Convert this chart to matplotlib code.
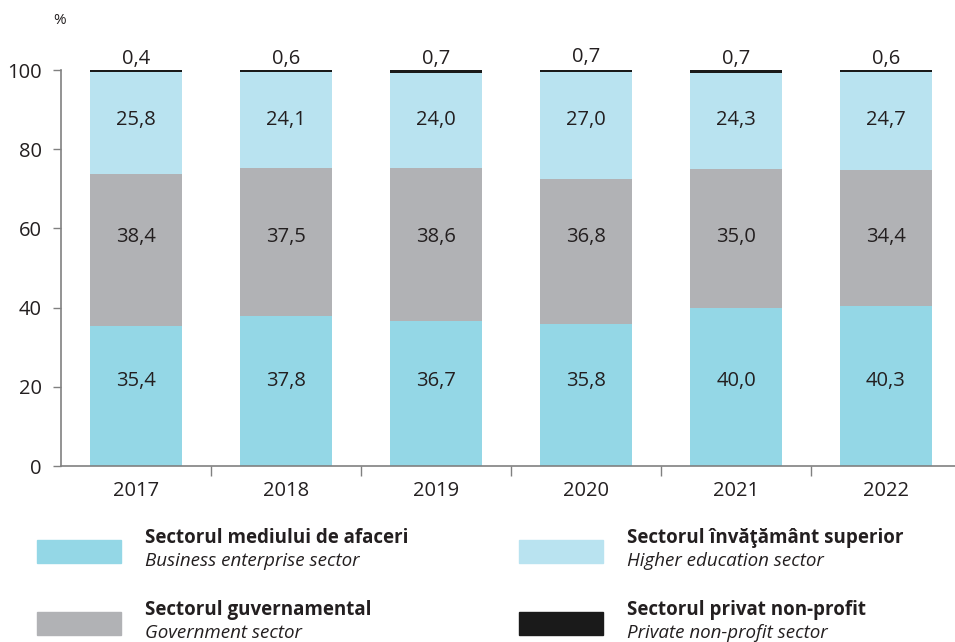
import matplotlib.pyplot as plt
from matplotlib.patches import Rectangle

plt.rcParams['font.family'] = ['Open Sans', 'DejaVu Sans']

years = ["2017", "2018", "2019", "2020", "2021", "2022"]
business = [35.4, 37.8, 36.7, 35.8, 40.0, 40.3]
government = [38.4, 37.5, 38.6, 36.8, 35.0, 34.4]
higher_edu = [25.8, 24.1, 24.0, 27.0, 24.3, 24.7]
private_np = [0.4, 0.6, 0.7, 0.7, 0.7, 0.6]

c_bus = "#94d7e6"
c_gov = "#b1b2b5"
c_edu = "#b9e3f0"
c_np = "#1a1a1a"
txt = "#231f20"
W, H = 955, 642
# label rows sit at fixed heights in the original layout
label_y = [21.5, 57.8, 87.4]


def fmt(vals):
    return ["{:.1f}".format(v).replace(".", ",") for v in vals]


fig = plt.figure(figsize=(W / 100, H / 100), dpi=100)
ax = fig.add_axes([61 / W, (H - 466) / H, 894 / W, 396 / H])

x = list(range(len(years)))
bw = 0.613
ax.bar(x, business, bw, color=c_bus)
bot2 = business
ax.bar(x, government, bw, bottom=bot2, color=c_gov)
bot3 = [a + b for a, b in zip(business, government)]
ax.bar(x, higher_edu, bw, bottom=bot3, color=c_edu)
bot4 = [a + b for a, b in zip(bot3, higher_edu)]
b4 = ax.bar(x, private_np, bw, bottom=bot4, color=c_np)

for ly, vals in zip(label_y, [business, government, higher_edu]):
    for xi, lab in zip(x, fmt(vals)):
        ax.text(xi, ly, lab, ha="center", va="center", fontsize=14.5, color=txt)
ax.bar_label(b4, labels=fmt(private_np), label_type="edge", padding=1, fontsize=14.5,
             color=txt, annotation_clip=False)

ax.set_xlim(-0.5, 5.46)
ax.set_ylim(0, 100)
ax.set_yticks([0, 20, 40, 60, 80, 100])
ax.set_yticklabels(["0", "20", "40", "60", "80", "100"])
ax.set_xticks([i + 0.5 for i in range(len(years) - 1)])
ax.set_xticklabels([])
ax.set_xticks(x, minor=True)
ax.set_xticklabels(years, minor=True)
ax.tick_params(axis="x", which="minor", length=0, pad=11, labelsize=14.5, labelcolor=txt)
ax.tick_params(axis="x", which="major", length=7, width=1, color="#808080", direction="out")
ax.tick_params(axis="y", length=6, width=1, color="#808080", pad=8, labelsize=14.5, labelcolor=txt)
for s in ["top", "right"]:
    ax.spines[s].set_visible(False)
for s in ["left", "bottom"]:
    ax.spines[s].set_color("#808080")
    ax.spines[s].set_linewidth(1.2)

fig.text(60 / W, 1 - 21 / H, "%", fontsize=11, color=txt, ha="center", va="center")

legend_items = [
    (37, 540, c_bus, "Sectorul mediului de afaceri", "Business enterprise sector"),
    (519, 540, c_edu, "Sectorul învăţământ superior", "Higher education sector"),
    (37, 612, c_gov, "Sectorul guvernamental", "Government sector"),
    (519, 612, c_np, "Sectorul privat non-profit", "Private non-profit sector"),
]
for lx, ly, col, bold, ital in legend_items:
    fig.add_artist(Rectangle((lx / W, 1 - (ly + 23) / H), 84 / W, 23 / H,
                             transform=fig.transFigure, color=col))
    fig.text((lx + 108) / W, 1 - (ly - 2) / H, bold, fontsize=13.5, fontweight="bold",
             color=txt, va="center")
    fig.text((lx + 108) / W, 1 - (ly + 21) / H, ital, fontsize=13.5, style="italic",
             color=txt, va="center")

fig.savefig("out.png", dpi=100)
